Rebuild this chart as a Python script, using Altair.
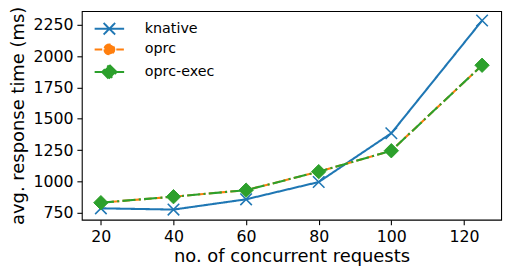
import altair as alt
import pandas as pd

# ---- data ----
x_vals = [20, 40, 60, 80, 100, 125]
knative = [785, 775, 857, 995, 1385, 2285]
oprc = [830, 878, 930, 1078, 1245, 1928]
oprc_exec = [830, 878, 930, 1078, 1245, 1928]
series_names = ["knative", "oprc", "oprc-exec"]
colors = ["#1f77b4", "#ff7f0e", "#2ca02c"]
x_ticks = [20, 40, 60, 80, 100, 120]
y_ticks = [750, 1000, 1250, 1500, 1750, 2000, 2250]

rows = []
for name, vals in zip(series_names, [knative, oprc, oprc_exec]):
    for xv, yv in zip(x_vals, vals):
        rows.append({"requests": xv, "time": yv, "series": name})
df = pd.DataFrame(rows)

FONT = "DejaVu Sans"

# marker paths (unit space)
X_PATH = "M-1,-1L1,1M-1,1L1,-1"
CIRCLE_PATH = "M-1,0A1,1 0 1,0 1,0A1,1 0 1,0 -1,0Z"
DIAMOND_PATH = "M0,-1L1,0L0,1L-1,0Z"

# legend symbols: line segment + marker
LEG_KN = "M-2.14,0L2.14,0M-0.84,-0.84L0.84,0.84M-0.84,0.84L0.84,-0.84"
LEG_OP = "M-2.14,0L2.14,0M-0.72,0A0.72,0.72 0 1,0 0.72,0A0.72,0.72 0 1,0 -0.72,0Z"
LEG_EX = "M-2.14,0L2.14,0M0,-1.05L1.05,0L0,1.05L-1.05,0Z"

x_enc = alt.X(
    "requests:Q",
    scale=alt.Scale(domain=[14.75, 130.25], nice=False, zero=False),
    axis=alt.Axis(values=x_ticks, format="d", title="no. of concurrent requests", titlePadding=3),
)
y_enc = alt.Y(
    "time:Q",
    scale=alt.Scale(domain=[694, 2361], nice=False, zero=False),
    axis=alt.Axis(values=y_ticks, format="d", title="avg. response time (ms)", titlePadding=6),
)
fill_enc = alt.Fill("series:N", scale=alt.Scale(domain=series_names, range=colors), title=None)
stroke_enc = alt.Stroke("series:N", scale=alt.Scale(domain=series_names, range=colors), title=None)
dash_enc = alt.StrokeDash(
    "series:N",
    scale=alt.Scale(domain=series_names, range=[[1, 0], [7.7, 3.3], [13.3, 3.3, 2.1, 3.3]]),
    title=None,
)
shape_enc = alt.Shape(
    "series:N",
    scale=alt.Scale(domain=series_names, range=[LEG_KN, LEG_OP, LEG_EX]),
    title=None,
)

base = alt.Chart(df)

lines = base.mark_line(strokeWidth=2.1).encode(
    x=x_enc, y=y_enc, stroke=stroke_enc, strokeDash=dash_enc
)

pts_kn = base.transform_filter(alt.datum.series == "knative").mark_point(
    filled=True, opacity=1, strokeWidth=1.6
).encode(x=x_enc, y=y_enc, fill=fill_enc, stroke=stroke_enc,
         shape=alt.value(X_PATH), size=alt.value(137))

pts_op = base.transform_filter(alt.datum.series == "oprc").mark_point(
    filled=True, opacity=1, strokeWidth=1
).encode(x=x_enc, y=y_enc, fill=fill_enc, stroke=stroke_enc,
         shape=alt.value(CIRCLE_PATH), size=alt.value(90))

pts_ex = base.transform_filter(alt.datum.series == "oprc-exec").mark_point(
    filled=True, opacity=1, strokeWidth=1
).encode(x=x_enc, y=y_enc, fill=fill_enc, stroke=stroke_enc,
         shape=alt.value(DIAMOND_PATH), size=alt.value(213))

legend_proxy = base.mark_point(filled=True, opacity=0).encode(
    x=x_enc, y=y_enc, fill=fill_enc, stroke=stroke_enc, shape=shape_enc
)

chart = (
    alt.layer(lines, pts_kn, pts_op, pts_ex, legend_proxy)
    .properties(
        width=426,
        height=212,
        padding={"left": 75, "top": 1, "right": 9, "bottom": 49},
        autosize=alt.AutoSizeParams(type="none"),
        background="white",
    )
    .configure_view(stroke="black", strokeWidth=1.1)
    .configure_axis(
        domain=False,
        grid=False,
        ticks=True,
        tickColor="black",
        tickSize=5,
        tickWidth=1.1,
        labelFont=FONT,
        labelFontSize=16,
        labelColor="black",
        labelPadding=4,
        titleFont=FONT,
        titleFontSize=18.2,
        titleFontWeight="normal",
        titleColor="black",
    )
    .configure_legend(
        orient="none",
        legendX=20,
        legendY=10,
        padding=0,
        labelFont=FONT,
        labelFontSize=14.5,
        labelColor="black",
        labelOffset=28,
        rowPadding=1,
        symbolSize=196,
        symbolStrokeWidth=2,
        symbolOpacity=1,
    )
)

chart.save("out.html", embed_options={"renderer": "svg", "actions": False})
